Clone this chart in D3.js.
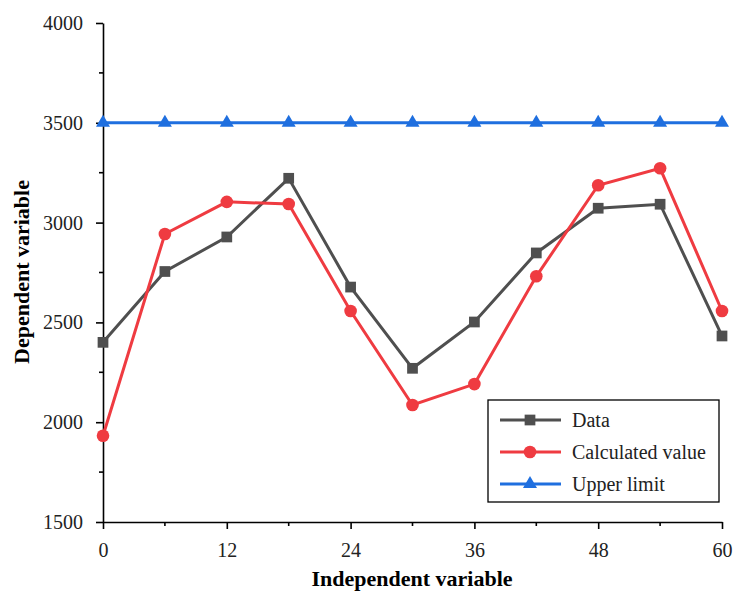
<!DOCTYPE html>
<html>
<head>
<meta charset="utf-8">
<script src="https://cdn.jsdelivr.net/npm/d3@7"></script>
<style>
  body { margin: 0; background: #fff; }
  svg text { font-family: "Liberation Serif", serif; }
</style>
</head>
<body>
<div id="vis"></div>
<script>
// Frame
const FRAME_WIDTH = 735;
const FRAME_HEIGHT = 593;
const MARGINS = {left: 103, right: 13, top: 23, bottom: 71};
const VIS_WIDTH = FRAME_WIDTH - MARGINS.left - MARGINS.right;
const VIS_HEIGHT = FRAME_HEIGHT - MARGINS.top - MARGINS.bottom;
const FONT = "'Liberation Serif', serif";

// data
const xValues = [0, 6, 12, 18, 24, 30, 36, 42, 48, 54, 60];
const dataValues = [2400, 2755, 2928, 3222, 2677, 2270, 2502, 2848, 3072, 3092, 2432];
const calcValues = [1932, 2943, 3104, 3093, 2557, 2086, 2191, 2731, 3187, 3272, 2557];
const limitValues = [3500, 3500, 3500, 3500, 3500, 3500, 3500, 3500, 3500, 3500, 3500];
const xTicks = [0, 12, 24, 36, 48, 60];
const yTicks = [1500, 2000, 2500, 3000, 3500, 4000];
const seriesNames = ["Data", "Calculated value", "Upper limit"];
const seriesColors = ["#4f4f4f", "#ef3b41", "#1f6fdf"];

const FRAME = d3.select("#vis")
  .append("svg")
    .attr("width", FRAME_WIDTH)
    .attr("height", FRAME_HEIGHT);

const X_SCALE = d3.scaleLinear().domain([0, 60]).range([0, VIS_WIDTH]);
const Y_SCALE = d3.scaleLinear().domain([1500, 4000]).range([VIS_HEIGHT, 0]);

const plot = FRAME.append("g")
  .attr("transform", "translate(" + MARGINS.left + "," + MARGINS.top + ")");

// minor ticks
const xMinor = d3.range(6, 60, 12);
const yMinor = d3.range(1750, 4000, 500);

const xAxis = plot.append("g")
  .attr("transform", "translate(0," + VIS_HEIGHT + ")")
  .call(d3.axisBottom(X_SCALE).tickValues(xTicks).tickFormat(d3.format("d"))
    .tickSize(7).tickPadding(14).tickSizeOuter(0));
xAxis.selectAll(".minor").data(xMinor).enter().append("line")
  .attr("x1", d => X_SCALE(d)).attr("x2", d => X_SCALE(d))
  .attr("y1", 0).attr("y2", 4)
  .attr("stroke", "#000").attr("stroke-width", 1.6);

const yAxis = plot.append("g")
  .call(d3.axisLeft(Y_SCALE).tickValues(yTicks).tickFormat(d3.format("d"))
    .tickSize(7).tickPadding(13).tickSizeOuter(0));
yAxis.selectAll(".minor").data(yMinor).enter().append("line")
  .attr("y1", d => Y_SCALE(d)).attr("y2", d => Y_SCALE(d))
  .attr("x1", 0).attr("x2", -4)
  .attr("stroke", "#000").attr("stroke-width", 1.6);

[xAxis, yAxis].forEach(ax => {
  ax.attr("font-family", FONT).attr("font-size", 20);
  ax.select(".domain").attr("stroke-width", 1.6);
  ax.selectAll(".tick line").attr("stroke-width", 1.6);
  ax.selectAll(".tick text")
    .attr("font-family", FONT)
    .attr("font-size", "20px")
    .attr("fill", "#222");
});

// axis titles
FRAME.append("text")
  .attr("x", 412)
  .attr("y", 586)
  .attr("text-anchor", "middle")
  .attr("font-family", FONT)
  .attr("font-size", "22px")
  .attr("font-weight", "bold")
  .text("Independent variable");

FRAME.append("text")
  .attr("transform", "translate(29,272) rotate(-90)")
  .attr("text-anchor", "middle")
  .attr("font-family", FONT)
  .attr("font-size", "22px")
  .attr("font-weight", "bold")
  .text("Dependent variable");

// lines
const allSeries = [dataValues, calcValues, limitValues];
const line = d3.line().x((d, i) => X_SCALE(xValues[i])).y(d => Y_SCALE(d));

allSeries.forEach((vals, s) => {
  plot.append("path")
    .datum(vals)
    .attr("fill", "none")
    .attr("stroke", seriesColors[s])
    .attr("stroke-width", 3)
    .attr("d", line);
});

const square = d3.symbol().type(d3.symbolSquare).size(115);
const circle = d3.symbol().type(d3.symbolCircle).size(125);
const triangle = d3.symbol().type(d3.symbolTriangle).size(85);
const shapes = [square, circle, triangle];

allSeries.forEach((vals, s) => {
  plot.selectAll(".pt" + s)
    .data(vals)
    .enter()
    .append("path")
      .attr("class", "pt" + s)
      .attr("transform", (d, i) => "translate(" + X_SCALE(xValues[i]) + "," + Y_SCALE(d) + ")")
      .attr("d", shapes[s]())
      .attr("fill", seriesColors[s]);
});

// legend
const legend = FRAME.append("g").attr("transform", "translate(488,400)");
legend.append("rect")
  .attr("width", 231).attr("height", 102)
  .attr("fill", "#fff").attr("stroke", "#000").attr("stroke-width", 1.3);

seriesNames.forEach((name, s) => {
  const yy = 20 + s * 32;
  legend.append("line")
    .attr("x1", 12).attr("x2", 73).attr("y1", yy).attr("y2", yy)
    .attr("stroke", seriesColors[s]).attr("stroke-width", 3);
  legend.append("path")
    .attr("transform", "translate(42," + yy + ")")
    .attr("d", shapes[s]())
    .attr("fill", seriesColors[s]);
  legend.append("text")
    .attr("x", 84).attr("y", yy + 7)
    .attr("font-family", FONT)
    .attr("font-size", "20px")
    .attr("fill", "#222")
    .text(name);
});
</script>
</body>
</html>
